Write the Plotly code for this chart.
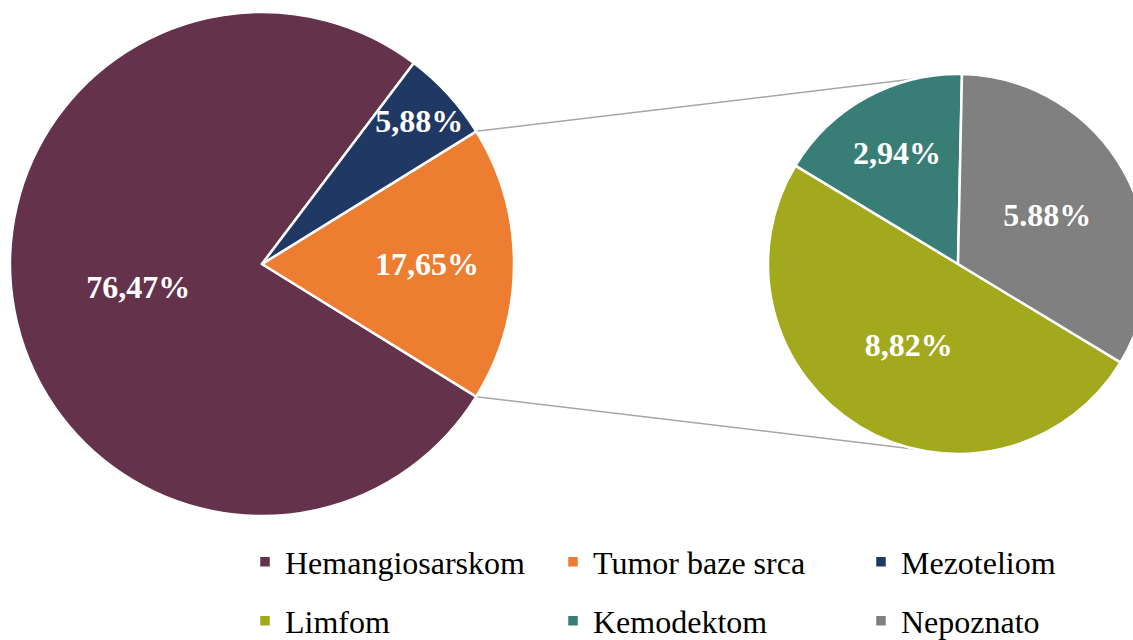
import math
import plotly.graph_objects as go

# ---- data ----
main_labels = ["Hemangiosarskom", "Tumor baze srca", "Mezoteliom"]
main_values = [76.47, 17.65, 5.88]
main_text = ["76,47%", "17,65%", "5,88%"]
main_colors = ["#64324A", "#ED7D31", "#203864"]

sub_labels = ["Limfom", "Kemodektom", "Nepoznato"]
sub_values = [8.82, 2.94, 5.88]
sub_text = ["8,82%", "2,94%", "5.88%"]
sub_colors = ["#A2A91C", "#397E76", "#808080"]

# ---- layout geometry (pixels) ----
W, H = 1148, 640
L_CX, L_CY, L_R = 262, 264, 252
R_CX, R_CY, R_R = 958, 264, 190


def px(x):
    return x / W


def py(y):
    return 1 - y / H


total_main = sum(main_values)
half_split = main_values[1] / total_main * 180.0  # half-angle of the exploded slice
# counter-clockwise: rotation marks the clockwise edge of the 2nd slice (Tumor)
main_rotation = 90 + half_split

total_sub = sum(sub_values)
sub_rotation = 1.2 + sub_values[2] / total_sub * 360.0

fig = go.Figure()
fig.add_trace(go.Pie(
    labels=main_labels, values=main_values, text=main_text,
    textinfo="text", sort=False, direction="counterclockwise",
    rotation=main_rotation,
    marker=dict(colors=main_colors, line=dict(color="white", width=2.5)),
    textfont=dict(family="Liberation Serif", size=32, color="white", weight="bold"),
    insidetextorientation="horizontal", textposition="inside",
    domain=dict(x=[px(L_CX - L_R), px(L_CX + L_R)], y=[py(L_CY + L_R), py(L_CY - L_R)]),
    legend="legend", hoverinfo="label+text",
))
fig.add_trace(go.Pie(
    labels=sub_labels, values=sub_values, text=sub_text,
    textinfo="text", sort=False, direction="clockwise",
    rotation=sub_rotation,
    marker=dict(colors=sub_colors, line=dict(color="white", width=2.5)),
    textfont=dict(family="Liberation Serif", size=32, color="white", weight="bold"),
    insidetextorientation="horizontal", textposition="inside",
    domain=dict(x=[px(R_CX - R_R), px(R_CX + R_R)], y=[py(R_CY + R_R), py(R_CY - R_R)]),
    legend="legend2", hoverinfo="label+text",
))

# connector lines from exploded slice edges to the secondary pie
for sgn in (1, -1):
    a1 = math.radians(sgn * half_split)
    a2 = math.radians(sgn * 103)
    x0 = L_CX + L_R * math.cos(a1)
    y0 = L_CY - L_R * math.sin(a1)
    x1 = R_CX + R_R * math.cos(a2)
    y1 = R_CY - R_R * math.sin(a2)
    fig.add_shape(type="line", xref="paper", yref="paper",
                  x0=px(x0), y0=py(y0), x1=px(x1), y1=py(y1),
                  line=dict(color="#A6A6A6", width=1.5), layer="below")

legend_font = dict(family="Liberation Serif", size=32, color="black")
fig.update_layout(
    width=W, height=H,
    margin=dict(l=0, r=0, t=0, b=0, autoexpand=False),
    paper_bgcolor="white", plot_bgcolor="white",
    showlegend=True,
    uniformtext=dict(minsize=32, mode="show"),
    legend=dict(orientation="h", x=px(245), y=py(562), xanchor="left", yanchor="middle",
                font=legend_font, entrywidth=263, bgcolor="rgba(0,0,0,0)",
                traceorder="normal"),
    legend2=dict(orientation="h", x=px(245), y=py(621), xanchor="left", yanchor="middle",
                 font=legend_font, entrywidth=263, bgcolor="rgba(0,0,0,0)",
                 traceorder="normal"),
)

fig.write_html("out.html", config={"displayModeBar": False},
               post_script="document.body.style.margin='0';document.body.style.overflow='hidden';")
